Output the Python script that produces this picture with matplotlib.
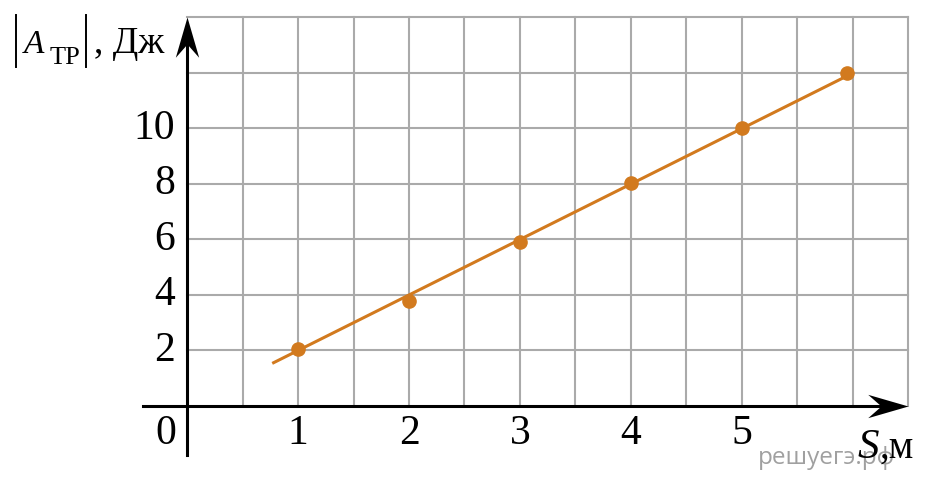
import numpy as np
import matplotlib
matplotlib.use("Agg")
import matplotlib.pyplot as plt

# data
s_m = [1, 2, 3, 4, 5, 5.95]
a_j = [2.05, 3.8, 5.9, 8.05, 10.0, 12.0]
fit_x = [0.78, 5.95]
fit_k = 2.0            # fitted line A = 2*S
x_ticks = [1, 2, 3, 4, 5]
y_ticks = [2, 4, 6, 8, 10]

orange = '#d27a1e'
grid_c = '#aaaaaa'
serif = ['Liberation Serif', 'DejaVu Serif']

fig = plt.figure(figsize=(9.28, 4.86), dpi=100)
ax = fig.add_axes([0, 0, 1, 1])
ax.set_xlim(-1.685, 6.676)
ax.set_ylim(-2.883, 14.63)
ax.axis('off')

# grid
xmax, ymax = 6.5, 14
for gx in np.arange(0.5, xmax + 0.01, 0.5):
    ax.plot([gx, gx], [0, ymax], color=grid_c, lw=1.5, zorder=1)
for gy in np.arange(2, ymax + 0.01, 2):
    ax.plot([0, xmax], [gy, gy], color=grid_c, lw=1.5, zorder=1)

# axes with arrows
ax.plot([-0.4, xmax - 0.2], [0, 0], color='black', lw=2.2, zorder=3)
ax.plot([0, 0], [-1.75, ymax - 0.8], color='black', lw=2.2, zorder=3)
head = [(0, 0), (-1, 0.29), (-0.67, 0), (-1, -0.29), (0, 0)]
head_up = [(y, x) for x, y in head]
ax.plot(xmax, 0, marker=head, markersize=58, color='black', mew=0, zorder=4)
ax.plot(0, ymax, marker=head_up, markersize=58, color='black', mew=0, zorder=4)

# data
fx = np.array(fit_x)
ax.plot(fx, fit_k * fx, color=orange, lw=2.2, zorder=5)
ax.plot(s_m, a_j, 'o', color=orange, markersize=9.5, zorder=6)

# tick labels
for t in x_ticks:
    ax.text(t, -1.0, str(t), fontsize=30, family=serif, ha='center', va='center')
for t in y_ticks:
    ax.text(-0.11, t, str(t), fontsize=30, family=serif, ha='right', va='center')
ax.text(-0.1, -1.0, '0', fontsize=30, family=serif, ha='right', va='center')

# y axis title |A_TP|, Дж
for bx in (-1.541, -0.910):
    ax.plot([bx, bx], [12.22, 14.09], color='black', lw=1.4, zorder=3)
ax.text(-1.47, 12.72, 'A', fontsize=24, family=serif, style='italic',
        ha='left', va='baseline')
ax.text(-1.235, 12.32, 'ТР', fontsize=19, family=serif, ha='left', va='baseline')
ax.text(-0.84, 12.72, ', Дж', fontsize=27, family=serif, ha='left', va='baseline')

# x axis title S, м
ax.text(6.04, -1.87, 'S', fontsize=31, family=serif, style='italic',
        ha='left', va='baseline')
ax.text(6.24, -1.87, ',м', fontsize=28, family=serif, ha='left', va='baseline')

# watermark
ax.text(5.14, -1.87, 'решуегэ.рф', fontsize=17.5, family=['Open Sans', 'DejaVu Sans'],
        color='#a0a0a0', ha='left', va='center', zorder=0)

fig.savefig('out.png', dpi=100)
